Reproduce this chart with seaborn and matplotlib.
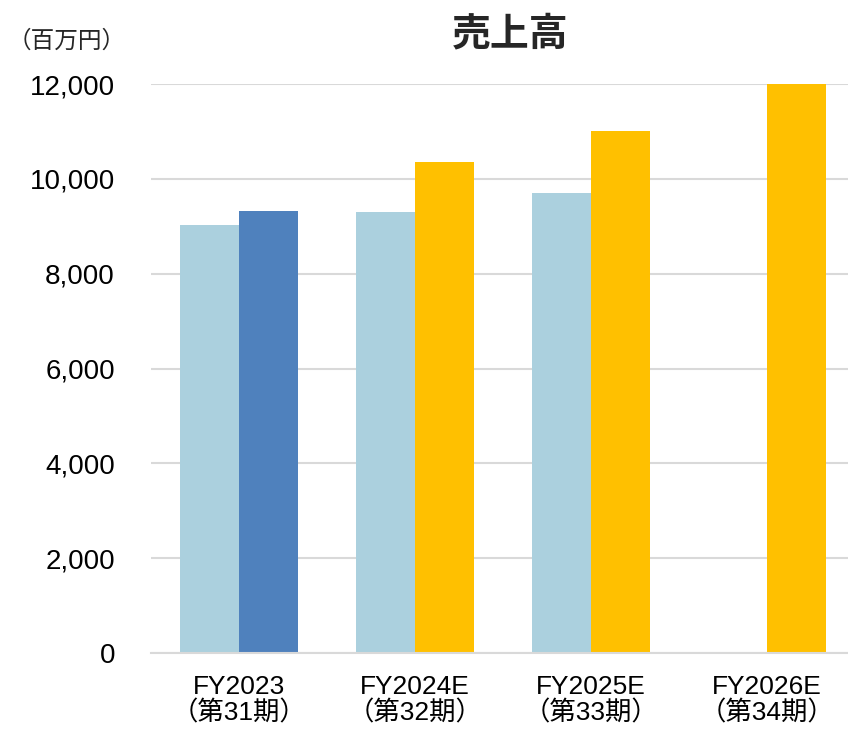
import numpy as np
import pandas as pd
import matplotlib.pyplot as plt
import seaborn as sns
from matplotlib.ticker import FuncFormatter

# data (百万円)
categories = ["FY2023\n（第31期）", "FY2024E\n（第32期）", "FY2025E\n（第33期）", "FY2026E\n（第34期）"]
prev_plan = [9020, 9300, 9700, np.nan]      # left bar of each pair
new_values = [9320, 10350, 11000, 12000]    # right bar (FY2023 = actual)
slot_names = ["前回", "今回"]

light_blue = "#abd0de"
dark_blue = "#4f81bd"
yellow = "#ffc000"

df = pd.DataFrame({
    "category": categories * 2,
    "slot": [slot_names[0]] * 4 + [slot_names[1]] * 4,
    "value": prev_plan + new_values,
})

sns.set_theme(style="white")
plt.rcParams["font.family"] = ["Liberation Sans", "Noto Sans CJK JP", "DejaVu Sans"]

fig = plt.figure(figsize=(8.48, 7.30), dpi=100)
ax = fig.add_axes([151 / 848, 77 / 730, 704 / 848, 569 / 730])

sns.barplot(data=df, x="category", y="value", hue="slot", order=categories,
            hue_order=slot_names, palette=[light_blue, yellow],
            width=0.67, gap=0, saturation=1, linewidth=0, legend=False, ax=ax)

# first pair's right bar is the actual result (dark blue)
ax.containers[1][0].set_facecolor(dark_blue)

ax.set_ylim(0, 12000)
ax.set_xlim(-0.5, 3.5)
ax.set_yticks(np.arange(0, 12001, 2000))
ax.yaxis.set_major_formatter(FuncFormatter(lambda v, p: f"{int(v):,}"))
ax.grid(axis="y", color="#d9d9d9", linewidth=1.5)
ax.set_axisbelow(True)
for s in ["top", "right", "left"]:
    ax.spines[s].set_visible(False)
ax.spines["bottom"].set_color("#d9d9d9")
ax.spines["bottom"].set_linewidth(1.5)

ax.tick_params(axis="y", labelsize=20, pad=26, length=0, labelcolor="black")
ax.tick_params(axis="x", labelsize=19, pad=16, length=0, labelcolor="black")
for lbl in ax.get_xticklabels():
    lbl.set_linespacing(1.05)
ax.set_xlabel("")
ax.set_ylabel("")

fig.text(510 / 848, 1 - 35 / 730, "売上高", ha="center", va="center",
         fontsize=28, fontweight="bold")
fig.text(8 / 848, 1 - 42 / 730, "（百万円）", ha="left", va="center", fontsize=17)

fig.savefig("out.png", dpi=100)
